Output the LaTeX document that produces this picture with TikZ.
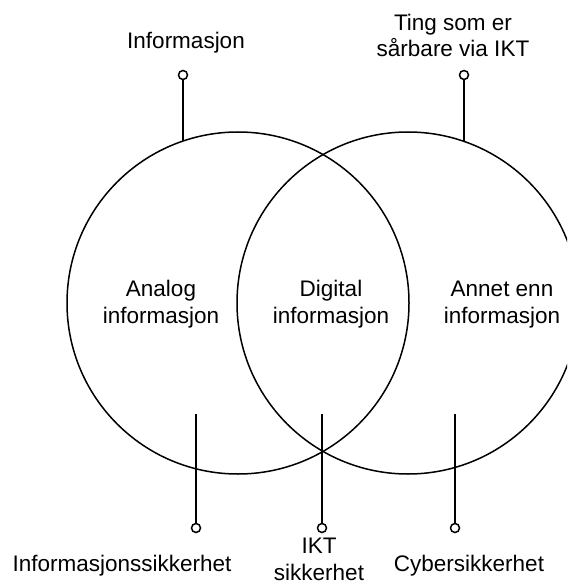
\documentclass[tikz,border=0pt]{standalone}
\usepackage{fontspec}
\setmainfont{Liberation Sans}
\usetikzlibrary{positioning}

\begin{document}
\begin{tikzpicture}[x=1pt, y=-1pt, line width=1.5pt]
	\useasboundingbox (0,0) rectangle (567,585);
	\clip (0,0) rectangle (567,585);

	% the two sets
	\begin{scope}[every node/.style={circle, draw, minimum size=342pt, inner sep=0pt}]
		\node (info) at (238,303) {};
		\node (ikt) at (408,303) {};
	\end{scope}

	% text, placed by the baseline of its last line
	\begin{scope}[every node/.style={align=center, anchor=base, inner sep=0pt,
	              font=\fontsize{22.5}{26.5}\selectfont}]
		\node (analog) at (161,323) {Analog\\informasjon};
		\node (digital) at (331,323) {Digital\\informasjon};
		\node (annet) at (502,323) {Annet enn\\informasjon};

		\node (tinfo) at (186,49) {Informasjon};
		\node (tting) at (453,57) {Ting som er\\sårbare via IKT};

		\node (binfo) at (122,571) {Informasjonssikkerhet};
		\node (bikt) at (319,580) {IKT\\sikkerhet};
		\node (bcyber) at (469,571) {Cybersikkerhet};
	\end{scope}

	% pins
	\begin{scope}[every node/.style={circle, draw, fill=white, minimum size=9pt, inner sep=0pt}]
		\node (p1) at (183,75) {};
		\node (p2) at (464,75) {};
		\node (p3) at (196,528) {};
		\node (p4) at (322,528) {};
		\node (p5) at (455,528) {};
	\end{scope}

	\coordinate (c1) at (183,141);
	\coordinate (c2) at (464,141);
	\coordinate (c3) at (196,414);
	\coordinate (c4) at (322,414);
	\coordinate (c5) at (455,414);

	\begin{scope}[every edge/.style={draw=black}]
		\path (p1) edge (c1);
		\path (p2) edge (c2);
		\path (c3) edge (p3);
		\path (c4) edge (p4);
		\path (c5) edge (p5);
	\end{scope}
\end{tikzpicture}
\end{document}
